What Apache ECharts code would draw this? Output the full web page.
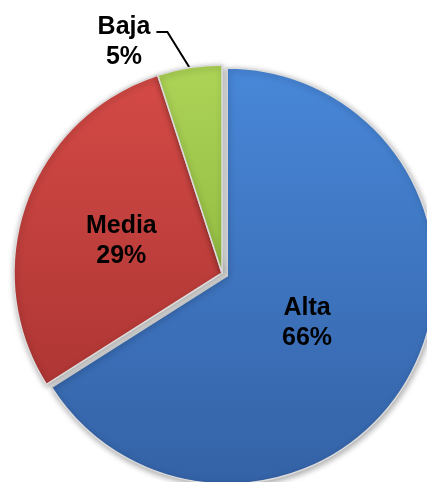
<!DOCTYPE html>
<html>
<head>
<meta charset="utf-8">
<script src="https://cdn.jsdelivr.net/npm/echarts@6/dist/echarts.min.js"></script>
<style>html,body{margin:0;padding:0;background:#fff;}#c{width:427px;height:482px;}</style>
</head>
<body>
<div id="c"></div>
<script>
const categories = ['Alta', 'Media', 'Baja'];
const values = [66, 29, 5];
const topColors = ['#4887D8', '#D44A46', '#ADD457'];
const bottomColors = ['#3462A6', '#AE3634', '#93BC42'];

const chart = echarts.init(document.getElementById('c'));
const data = categories.map((name, i) => ({
  name: name,
  value: values[i],
  selected: i === 0,
  itemStyle: {
    color: new echarts.graphic.LinearGradient(0, 0, 0, 1, [
      { offset: 0, color: topColors[i] },
      { offset: 1, color: bottomColors[i] }
    ])
  },
  label: i === 2
    ? { position: 'outside', padding: [0, 6, 0, 0], formatter: '{pad| }\n{b}\n{d}%' }
    : { position: 'inner' }
}));

chart.setOption({
  animation: false,
  series: [{
    type: 'pie',
    center: [222, 273],
    radius: 208,
    startAngle: 90,
    clockwise: true,
    selectedMode: 'single',
    selectedOffset: 6,
    avoidLabelOverlap: false,
    itemStyle: {
      borderColor: '#dcdcdc',
      borderWidth: 1.5,
      shadowBlur: 6,
      shadowColor: 'rgba(0,0,0,0.35)',
      shadowOffsetX: 1,
      shadowOffsetY: 2
    },
    label: {
      show: true,
      formatter: '{b}\n{d}%',
      fontFamily: 'Liberation Sans, Arial, sans-serif',
      fontWeight: 'bold',
      fontSize: 25,
      lineHeight: 30,
      color: '#000',
      align: 'center',
      rich: {
        pad: { fontSize: 10, lineHeight: 20, height: 20 }
      }
    },
    labelLine: {
      show: true,
      length: 30,
      length2: 11,
      lineStyle: { color: '#000', width: 2 }
    },
    labelLayout: function (params) {
      if (params.dataIndex === 0) return { dx: -14, dy: -4 };
      if (params.dataIndex === 1) return { dy: 4 };
      if (params.dataIndex === 2) return { x: 127, y: 32, align: 'center', verticalAlign: 'middle' };
      return {};
    },
    emphasis: { disabled: true },
    data: data
  }]
});
</script>
</body>
</html>
